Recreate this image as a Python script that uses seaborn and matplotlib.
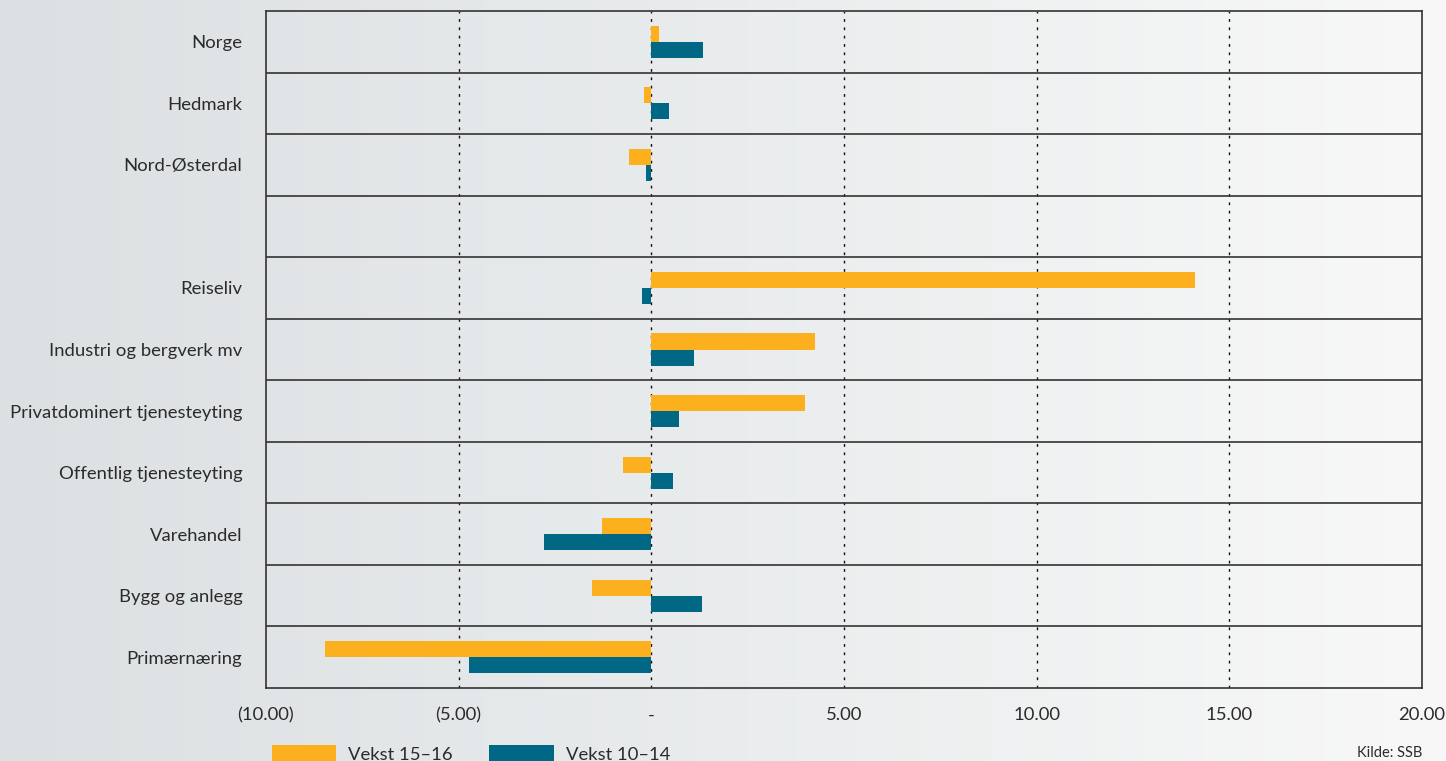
import numpy as np
import pandas as pd
import matplotlib
matplotlib.use("Agg")
import matplotlib.pyplot as plt
import seaborn as sns
from matplotlib.patches import Patch

categories = ["Norge", "Hedmark", "Nord-Østerdal", " ", "Reiseliv",
              "Industri og bergverk mv", "Privatdominert tjenesteyting",
              "Offentlig tjenesteyting", "Varehandel", "Bygg og anlegg",
              "Primærnæring"]
vekst_15_16 = [0.19, -0.19, -0.57, np.nan, 14.1, 4.25, 3.99, -0.73, -1.27, -1.53, -8.46]
vekst_10_14 = [1.33, 0.46, -0.14, np.nan, -0.24, 1.11, 0.73, 0.57, -2.78, 1.32, -4.73]
series_names = ["Vekst 15\u201316", "Vekst 10\u201314"]
x_ticks = [-10, -5, 0, 5, 10, 15, 20]
x_tick_labels = ["(10.00)", "(5.00)", "-", "5.00", "10.00", "15.00", "20.00"]
colors = ["#FDB01E", "#006784"]

df = pd.DataFrame({
    "kategori": categories * 2,
    "verdi": vekst_15_16 + vekst_10_14,
    "serie": [series_names[0]] * len(categories) + [series_names[1]] * len(categories),
})

sns.set_theme(style="white")
plt.rcParams["font.family"] = ["Lato", "DejaVu Sans"]
text_color = "#2b2b2b"
fs = 13.3

fig = plt.figure(figsize=(14.46, 7.61), dpi=100)

# gradient background
bg = fig.add_axes([0, 0, 1, 1], zorder=-10)
left = np.array([219, 224, 226]) / 255
right = np.array([248, 248, 248]) / 255
t = np.linspace(0, 1, 512)[None, :, None]
grad = left[None, None, :] * (1 - t) + right[None, None, :] * t
bg.imshow(grad, aspect="auto", extent=[0, 1, 0, 1])
bg.set_axis_off()

ax = fig.add_axes([266 / 1446, 1 - 688 / 761, (1422 - 266) / 1446, (688 - 11) / 761])
ax.set_facecolor("none")

sns.barplot(data=df, y="kategori", x="verdi", hue="serie", order=categories,
            hue_order=series_names, palette=colors, orient="h", width=0.52,
            ax=ax, legend=False, saturation=1, errorbar=None, linewidth=0)

ax.set_xlim(-10, 20)
ax.set_ylim(len(categories) - 0.5, -0.5)
ax.set_xticks(x_ticks)
ax.set_xticklabels(x_tick_labels, fontsize=fs, color=text_color)
ax.tick_params(axis="both", length=0, labelsize=fs, colors=text_color)
ax.tick_params(axis="x", pad=14)
ax.tick_params(axis="y", pad=17)
ax.set_xlabel("")
ax.set_ylabel("")

for xv in [-5, 0, 5, 10, 15]:
    ax.axvline(xv, color="#111111", lw=1.0, ls=(0, (2, 4)), zorder=0.5)
for i in range(len(categories) - 1):
    ax.axhline(i + 0.5, color="#333333", lw=1.2, zorder=3)
for s in ax.spines.values():
    s.set_visible(True)
    s.set_color("#333333")
    s.set_linewidth(1.2)

handles = [Patch(facecolor=c, edgecolor="none") for c in colors]
fig.legend(handles, series_names, loc="center left",
           bbox_to_anchor=(255 / 1446, 1 - 754 / 761), ncol=2, frameon=False,
           fontsize=fs, handlelength=3.5, handleheight=1.1, handletextpad=0.65,
           columnspacing=1.95, labelcolor=text_color)

fig.text(1422 / 1446, 1 - 753 / 761, "Kilde: SSB", ha="right", va="center",
         fontsize=10.5, color=text_color)

fig.savefig("out.png", dpi=100)
